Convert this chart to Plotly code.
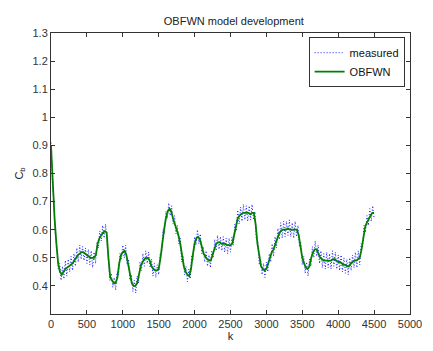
import plotly.graph_objects as go

# OBFWN model output, every 25 samples
obfwn_step = 25
obfwn_vals = [
    0.90, 0.75, 0.64, 0.55, 0.48, 0.45, 0.44, 0.45, 0.46, 0.465,
    0.47, 0.475, 0.48, 0.49, 0.50, 0.51, 0.515, 0.52, 0.52, 0.515,
    0.51, 0.505, 0.50, 0.50, 0.50, 0.51, 0.55, 0.57, 0.58, 0.59,
    0.595, 0.59, 0.50, 0.43, 0.42, 0.41, 0.41, 0.43, 0.48, 0.51,
    0.52, 0.525, 0.51, 0.48, 0.44, 0.41, 0.40, 0.40, 0.41, 0.44,
    0.47, 0.485, 0.495, 0.50, 0.50, 0.49, 0.47, 0.46, 0.455, 0.455,
    0.46, 0.50, 0.56, 0.60, 0.64, 0.665, 0.675, 0.665, 0.64, 0.62,
    0.60, 0.58, 0.55, 0.50, 0.47, 0.45, 0.44, 0.435, 0.46, 0.51,
    0.55, 0.57, 0.575, 0.565, 0.54, 0.515, 0.505, 0.495, 0.49, 0.49,
    0.51, 0.535, 0.55, 0.555, 0.555, 0.55, 0.55, 0.55, 0.545, 0.545,
    0.545, 0.55, 0.58, 0.62, 0.64, 0.65, 0.655, 0.66, 0.66, 0.66,
    0.66, 0.655, 0.66, 0.66, 0.62, 0.55, 0.50, 0.47, 0.46, 0.455,
    0.46, 0.48, 0.50, 0.52, 0.53, 0.55, 0.57, 0.585, 0.595, 0.60,
    0.60, 0.60, 0.605, 0.60, 0.60, 0.60, 0.60, 0.60, 0.58, 0.54,
    0.50, 0.48, 0.465, 0.46, 0.47, 0.50, 0.52, 0.53, 0.53, 0.515,
    0.50, 0.495, 0.49, 0.49, 0.49, 0.49, 0.49, 0.495, 0.495, 0.49,
    0.485, 0.485, 0.48, 0.475, 0.475, 0.47, 0.47, 0.48, 0.485, 0.49,
    0.49, 0.495, 0.50, 0.53, 0.58, 0.61, 0.625, 0.64, 0.65, 0.66,
    0.66,
]

# measured Cb, every 20 samples
measured_step = 20
measured_vals = [
    0.91, 0.76, 0.70, 0.58, 0.54, 0.46, 0.48, 0.42, 0.47, 0.425,
    0.49, 0.435, 0.495, 0.45, 0.505, 0.455, 0.515, 0.47, 0.535, 0.485,
    0.545, 0.495, 0.54, 0.49, 0.535, 0.48, 0.53, 0.475, 0.525, 0.465,
    0.52, 0.48, 0.555, 0.535, 0.595, 0.56, 0.615, 0.57, 0.62, 0.555,
    0.51, 0.42, 0.445, 0.395, 0.43, 0.385, 0.45, 0.44, 0.515, 0.495,
    0.545, 0.50, 0.545, 0.475, 0.495, 0.42, 0.44, 0.38, 0.42, 0.375,
    0.435, 0.41, 0.485, 0.455, 0.515, 0.47, 0.525, 0.48, 0.52, 0.465,
    0.495, 0.435, 0.48, 0.43, 0.475, 0.44, 0.515, 0.515, 0.60, 0.585,
    0.665, 0.64, 0.695, 0.65, 0.685, 0.62, 0.65, 0.585, 0.615, 0.55,
    0.57, 0.485, 0.505, 0.44, 0.47, 0.415, 0.46, 0.425, 0.51, 0.495,
    0.575, 0.545, 0.60, 0.55, 0.585, 0.515, 0.54, 0.485, 0.525, 0.47,
    0.51, 0.465, 0.525, 0.50, 0.565, 0.525, 0.58, 0.53, 0.575, 0.525,
    0.575, 0.52, 0.57, 0.515, 0.57, 0.52, 0.575, 0.545, 0.62, 0.595,
    0.67, 0.62, 0.68, 0.63, 0.69, 0.635, 0.685, 0.63, 0.685, 0.635,
    0.69, 0.635, 0.665, 0.565, 0.56, 0.475, 0.495, 0.44, 0.48, 0.43,
    0.485, 0.45, 0.515, 0.485, 0.55, 0.505, 0.575, 0.535, 0.605, 0.565,
    0.625, 0.57, 0.63, 0.575, 0.63, 0.58, 0.635, 0.575, 0.625, 0.57,
    0.63, 0.575, 0.615, 0.54, 0.555, 0.475, 0.505, 0.445, 0.485, 0.435,
    0.495, 0.47, 0.54, 0.50, 0.56, 0.505, 0.545, 0.48, 0.525, 0.465,
    0.515, 0.46, 0.52, 0.465, 0.515, 0.46, 0.525, 0.47, 0.52, 0.46,
    0.51, 0.455, 0.51, 0.45, 0.50, 0.445, 0.495, 0.44, 0.50, 0.455,
    0.51, 0.465, 0.52, 0.465, 0.525, 0.475, 0.55, 0.54, 0.615, 0.59,
    0.65, 0.615, 0.675, 0.63, 0.685, 0.64,
]

x_ticks = [0, 500, 1000, 1500, 2000, 2500, 3000, 3500, 4000, 4500, 5000]
y_ticks = [0.4, 0.5, 0.6, 0.7, 0.8, 0.9, 1.0, 1.1, 1.2, 1.3]
y_tick_text = ["0.4", "0.5", "0.6", "0.7", "0.8", "0.9", "1", "1.1", "1.2", "1.3"]

k_obfwn = [obfwn_step * i for i in range(len(obfwn_vals))]
k_measured = [measured_step * i for i in range(len(measured_vals))]

fig = go.Figure()
fig.add_trace(go.Scatter(
    x=k_measured, y=measured_vals, mode="lines", name="measured",
    line=dict(color="rgb(30,30,255)", width=1, dash="1px,2px"),
))
fig.add_trace(go.Scatter(
    x=k_obfwn, y=obfwn_vals, mode="lines", name="OBFWN",
    line=dict(color="rgb(0,128,0)", width=1.8),
))

axis_common = dict(
    showgrid=False, zeroline=False, showline=True, linecolor="#333333",
    linewidth=1, mirror="ticks", ticks="inside", ticklen=4, tickcolor="#333333",
    ticklabeloverflow="allow",
    tickfont=dict(family="Liberation Sans, Arial", size=11, color="#333333"),
)

fig.update_layout(
    width=433, height=351,
    margin=dict(l=51, r=11, t=33, b=28),
    paper_bgcolor="white", plot_bgcolor="white",
    title=dict(text="OBFWN model development", x=0.54, xanchor="center",
               y=0.94, yanchor="middle",
               font=dict(family="Liberation Sans, Arial", size=11, color="#222222")),
    font=dict(family="Liberation Sans, Arial", size=11, color="#222222"),
    xaxis=dict(range=[0, 5000], tickvals=x_ticks,
               title=dict(text="k", standoff=2,
                          font=dict(family="Liberation Sans, Arial", size=11, color="#222222")),
               **axis_common),
    yaxis=dict(range=[0.3, 1.3], tickvals=y_ticks, ticktext=y_tick_text,
               title=dict(text="C<sub>b</sub>", standoff=6,
                          font=dict(family="Liberation Sans, Arial", size=11, color="#222222")),
               **axis_common),
    legend=dict(x=0.985, y=0.985, xanchor="right", yanchor="top",
                bgcolor="white", bordercolor="#333333", borderwidth=1,
                font=dict(family="Liberation Sans, Arial", size=11, color="#111111"),
                tracegroupgap=0, itemwidth=30),
    showlegend=True,
)

fig.write_html("out.html")
